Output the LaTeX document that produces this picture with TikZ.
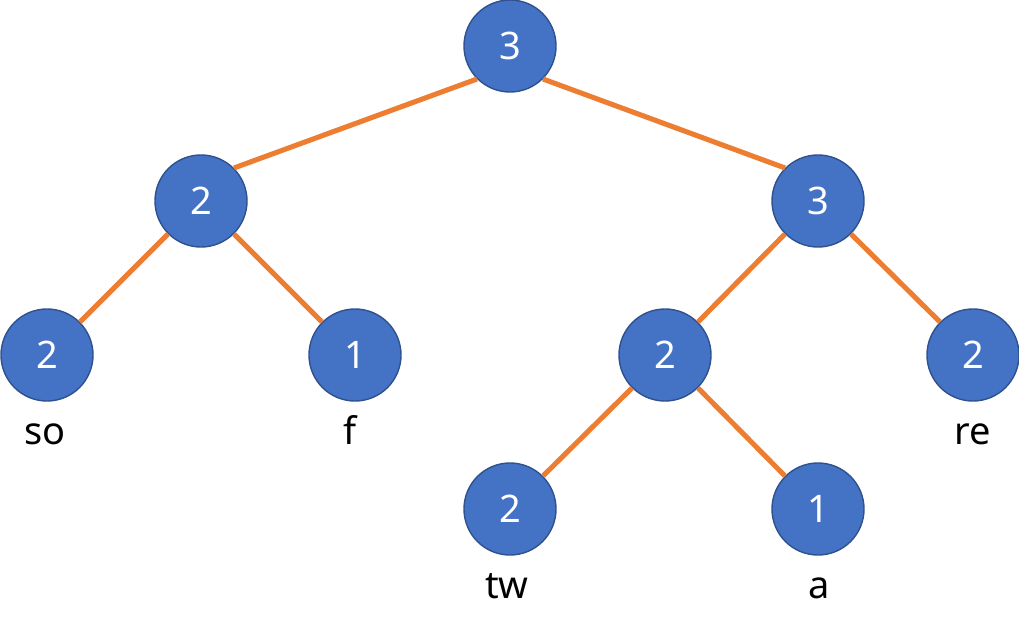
\documentclass[tikz,border=0pt]{standalone}
\usepackage{fontspec}
\setmainfont{Noto Sans}
\usetikzlibrary{positioning}
\definecolor{nodeBlue}{HTML}{4472C4}
\definecolor{nodeRim}{HTML}{2F528F}
\definecolor{edgeOrange}{HTML}{ED7D31}

\begin{document}
\begin{tikzpicture}[
    x=0.025cm, y=-0.025cm,
    font=\fontsize{27}{33}\selectfont,
    knot/.style={circle, minimum size=2.3cm, inner sep=0pt, fill=nodeBlue, draw=nodeRim, line width=1pt, text=white},
    link/.style={draw=edgeOrange, line width=3.6pt},
    word/.style={text=black, inner sep=0pt, anchor=base}
]
    \useasboundingbox (0,0) rectangle (1019,630);

    % Tree nodes
    \foreach \name/\x/\y/\val in {
        root/510/46/3,
        l/201/201/2,
        r/818/201/3,
        ll/47/355/2,
        lr/355/355/1,
        rl/665/355/2,
        rr/973/355/2,
        rll/510/509/2,
        rlr/818/509/1
    } {
        \node [knot] (\name) at (\x, \y) {\val};
    }

    % Connectors between the diagonal points of the circles
    \foreach \a/\b in {root/l, l/ll, r/rl, rl/rll} {
        \draw [link] (\a.south west) -- (\b.north east);
    }
    \foreach \a/\b in {root/r, l/lr, r/rr, rl/rlr} {
        \draw [link] (\a.south east) -- (\b.north west);
    }

    % Leaf words
    \node [word] (wso) at (45, 444) {so};
    \node [word] (wf)  at (350, 444) {f};
    \node [word] (wre) at (973, 444) {re};
    \node [word] (wtw) at (507, 598) {tw};
    \node [word] (wa)  at (819, 598) {a};
\end{tikzpicture}
\end{document}
